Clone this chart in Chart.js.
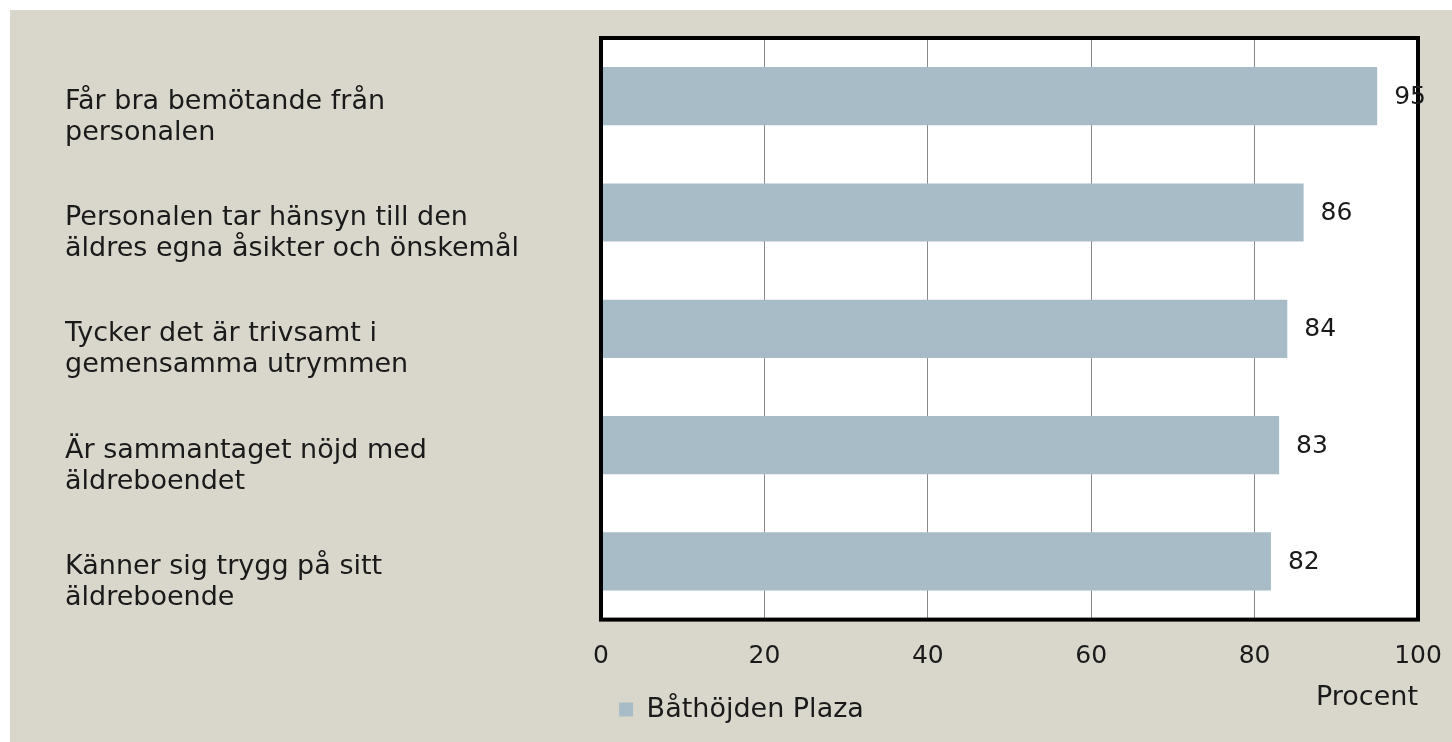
<!DOCTYPE html>
<html>
<head>
<meta charset="utf-8">
<script src="https://cdn.jsdelivr.net/npm/chart.js@4.4.0/dist/chart.umd.min.js"></script>
<style>
  html, body { margin: 0; padding: 0; background: #ffffff; }
  #wrap { position: absolute; left: 10px; top: 10px; width: 1442px; height: 732px; background: #d9d7cc; }
</style>
</head>
<body>
<div id="wrap"><canvas id="chartMain" width="1442" height="732"></canvas></div>
<script>
// chart data
const categories = [
  ['Får bra bemötande från', 'personalen'],
  ['Personalen tar hänsyn till den', 'äldres egna åsikter och önskemål'],
  ['Tycker det är trivsamt i', 'gemensamma utrymmen'],
  ['Är sammantaget nöjd med', 'äldreboendet'],
  ['Känner sig trygg på sitt', 'äldreboende']
];
const seriesName = 'Båthöjden Plaza';
const values = [95, 86, 84, 83, 82];
const xTicks = [0, 20, 40, 60, 80, 100];
const axisTitle = 'Procent';

const textColor = '#1a1a1a';
const fontFamily = '"DejaVu Sans", sans-serif';

// white plot area, black frame and value labels
const frameAndLabels = {
  id: 'frameAndLabels',
  beforeDraw(chart) {
    const a = chart.chartArea;
    const ctx = chart.ctx;
    ctx.save();
    ctx.fillStyle = '#ffffff';
    ctx.fillRect(a.left, a.top, a.right - a.left, a.bottom - a.top);
    ctx.restore();
  },
  afterDatasetsDraw(chart) {
    const a = chart.chartArea;
    const ctx = chart.ctx;
    ctx.save();
    ctx.strokeStyle = '#000000';
    ctx.lineWidth = 4;
    ctx.strokeRect(a.left, a.top, a.right - a.left, a.bottom - a.top);
    ctx.fillStyle = textColor;
    ctx.font = '25px ' + fontFamily;
    ctx.textAlign = 'left';
    ctx.textBaseline = 'middle';
    chart.getDatasetMeta(0).data.forEach((bar, i) => {
      ctx.fillText(String(values[i]), bar.x + 17, bar.y + 1);
    });
    ctx.restore();
  }
};

var ctx = document.getElementById('chartMain');
var data = {
  labels: categories,
  datasets: [{
    label: seriesName,
    data: values,
    backgroundColor: '#a7bcc7',
    borderWidth: 0,
    barPercentage: 0.5,
    categoryPercentage: 1.0
  }]
};

var chartMain = new Chart(ctx, {
  type: 'bar',
  data: data,
  plugins: [frameAndLabels],
  options: {
    indexAxis: 'y',
    responsive: false,
    devicePixelRatio: 1,
    animation: false,
    layout: { padding: { left: 55, right: 34, top: 28, bottom: 9 } },
    plugins: {
      tooltip: { enabled: false },
      legend: {
        position: 'bottom',
        align: 'center',
        labels: {
          boxWidth: 14,
          boxHeight: 14,
          color: textColor,
          font: { family: fontFamily, size: 27, lineHeight: 1.2 }
        }
      }
    },
    scales: {
      x: {
        min: 0,
        max: 100,
        afterBuildTicks: (scale) => { scale.ticks = xTicks.map(v => ({ value: v })); },
        afterFit: (scale) => { scale.paddingLeft = 0; scale.paddingRight = 0; },
        grid: { color: '#8a8a8a', lineWidth: 1, drawTicks: true, tickLength: 22, tickColor: 'rgba(0,0,0,0)' },
        border: { display: false },
        ticks: {
          color: textColor,
          padding: 0,
          font: { family: fontFamily, size: 25, lineHeight: 1.2 }
        },
        title: {
          display: true,
          text: axisTitle,
          align: 'end',
          color: textColor,
          padding: { top: 10, bottom: -28 },
          font: { family: fontFamily, size: 27, lineHeight: 1.2 }
        }
      },
      y: {
        grid: { display: false, drawTicks: false },
        border: { display: false },
        afterFit: (scale) => {
          scale.width = 536;
          scale.paddingTop = 0;
          scale.paddingBottom = 0;
        },
        ticks: {
          color: textColor,
          crossAlign: 'far',
          labelOffset: 21,
          font: { family: fontFamily, size: 27, lineHeight: 1.15 }
        }
      }
    }
  }
});
</script>
</body>
</html>
